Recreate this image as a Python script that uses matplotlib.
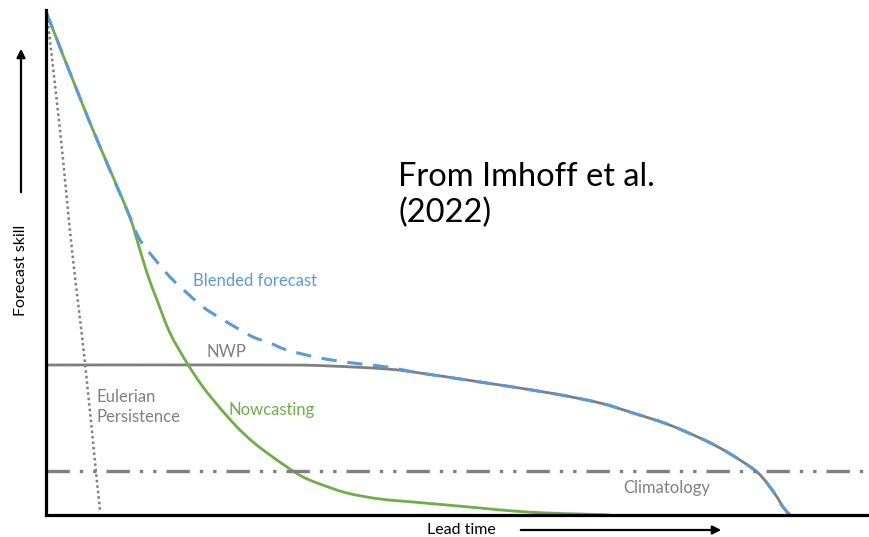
import matplotlib
matplotlib.use("Agg")
import matplotlib.pyplot as plt
from matplotlib.patches import FancyArrowPatch, PathPatch
from matplotlib.path import Path

# Data (x: lead time units, y: forecast skill units)
persist_x = [1, 14, 26, 39, 50, 54]
persist_y = [500, 385, 265, 152, 43, 5]

nowcast_x = [1, 42, 81, 91, 101, 111, 124, 141, 157, 174, 191, 207, 224, 241, 257, 274, 301, 334, 367, 401, 434, 467, 501, 534, 564]
nowcast_y = [501, 397, 305, 275, 242, 215, 182, 152, 128, 107, 88, 73, 60, 48, 38, 31, 22, 16, 13, 10, 7, 4, 2, 1, 0]

blend_x = [1, 42, 81, 86, 94, 107, 124, 141, 157, 174, 191, 207, 224, 241, 274, 307, 341, 374, 434, 504, 554, 587, 621, 654, 674, 694, 711, 721, 731, 737, 744]
blend_y = [501, 397, 305, 293, 275, 258, 238, 222, 208, 197, 187, 178, 172, 165, 157, 152, 148, 142, 133, 122, 112, 102, 91, 77, 67, 55, 43, 32, 18, 8, 0]

nwp_x = [0, 231, 284, 341, 374, 434, 504, 554, 587, 621, 654, 674, 694, 711, 721, 731, 737, 744]
nwp_y = [150, 150, 149, 146, 142, 133, 122, 112, 102, 91, 77, 67, 55, 43, 32, 18, 8, 0]

clim_y = 44

GRAY = "#7f7f7f"
TGRAY = "#808080"
BLUE = "#5b9bd5"
GREEN = "#70ad47"
FONT = ["Lato", "DejaVu Sans"]

W, H = 870, 537
fig = plt.figure(figsize=(W / 100, H / 100), dpi=100)
ax = fig.add_axes([46 / W, 22 / H, 824 / W, 505 / H])
ax.set_xlim(0, 824)
ax.set_ylim(0, 505)
for s in ["top", "right"]:
    ax.spines[s].set_visible(False)
for s in ["left", "bottom"]:
    ax.spines[s].set_linewidth(2.3)
    ax.spines[s].set_color("black")
    ax.spines[s].set_zorder(10)
ax.set_xticks([])
ax.set_yticks([])


def smooth_path(xs, ys):
    """Catmull-Rom curve through the given points, as cubic Bezier segments."""
    pts = list(zip(xs, ys))
    verts = [pts[0]]
    codes = [Path.MOVETO]
    n = len(pts)
    for i in range(n - 1):
        p0 = pts[i - 1] if i > 0 else pts[i]
        p1 = pts[i]
        p2 = pts[i + 1]
        p3 = pts[i + 2] if i + 2 < n else pts[i + 1]
        c1 = (p1[0] + (p2[0] - p0[0]) / 6, p1[1] + (p2[1] - p0[1]) / 6)
        c2 = (p2[0] - (p3[0] - p1[0]) / 6, p2[1] - (p3[1] - p1[1]) / 6)
        verts += [c1, c2, p2]
        codes += [Path.CURVE4] * 3
    return Path(verts, codes)


def curve(xs, ys, **kw):
    ax.add_patch(PathPatch(smooth_path(xs, ys), fill=False, clip_on=False, **kw))


curve(persist_x, persist_y, edgecolor=GRAY, lw=1.8, ls=(0, (1, 1.2)), capstyle="butt")
ax.axhline(clim_y, color=GRAY, lw=2.4, ls=(0, (7, 3, 1, 3, 1, 3)))
curve(nwp_x, nwp_y, edgecolor=GRAY, lw=2.0, capstyle="butt")
curve(nowcast_x, nowcast_y, edgecolor=GREEN, lw=2.0)
curve(blend_x, blend_y, edgecolor=BLUE, lw=2.2, ls=(0, (5, 3.5)))

def t(x, y, s, color, size=12, **kw):
    fig.text(x, H - y, s, color=color, fontsize=size, family=FONT, transform=None, **kw)

t(193, 281, "Blended forecast", BLUE, va="center", ha="left")
t(207, 352, "NWP", TGRAY, va="center", ha="left")
t(96, 407, "Eulerian\nPersistence", TGRAY, va="center", ha="left", linespacing=1.3)
t(228, 410, "Nowcasting", GREEN, va="center", ha="left")
t(623, 488, "Climatology", TGRAY, va="center", ha="left")
t(398, 195, "From Imhoff et al.\n(2022)", "black", size=23.5, va="center", ha="left", linespacing=1.2)
t(461, 530, "Lead time", "black", size=11.5, va="center", ha="center")
t(21, 270, "Forecast skill", "black", size=11.5, va="center", ha="center", rotation=90)

fig.add_artist(FancyArrowPatch((518, H - 530), (724, H - 530), transform=None,
               arrowstyle="-|>,head_length=5,head_width=2.5", lw=1.6, color="black"))
fig.add_artist(FancyArrowPatch((21, H - 195), (21, H - 46), transform=None,
               arrowstyle="-|>,head_length=5,head_width=2.5", lw=1.6, color="black"))

fig.savefig("out.png", dpi=100)
